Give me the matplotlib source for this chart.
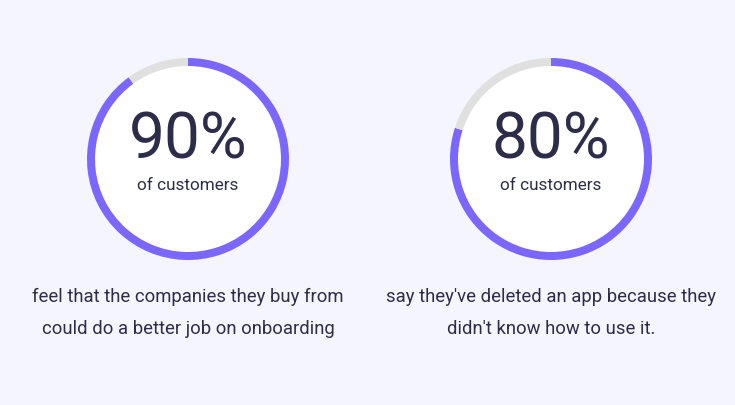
import matplotlib
matplotlib.use("Agg")
import matplotlib.pyplot as plt

values = [90, 80]
big_labels = ["90%", "80%"]
sub_label = "of customers"
captions = [
    "feel that the companies they buy from\ncould do a better job on onboarding",
    "say they've deleted an app because they\ndidn't know how to use it.",
]

BG = "#f4f5fe"
PURPLE = "#7b66ff"
GREY = "#e0e0e0"
DARK = "#2d2d4a"

W, H = 735, 406
fig = plt.figure(figsize=(W / 100, H / 100), dpi=100, facecolor=BG)
ax = fig.add_axes([0, 0, 1, 1])
ax.set_facecolor(BG)

centers_x = [188, 551]
cy = 160
R = 101
ring = 8

for i, v in enumerate(values):
    cx = centers_x[i]
    ax.add_patch(plt.Circle((cx, cy), R - ring / 2, color="white", zorder=1))
    # y axis is inverted: start at -90 (screen top), counterclock in data = clockwise on screen
    ax.pie([v, 100 - v], colors=[PURPLE, GREY], startangle=-90, counterclock=True,
           radius=R, center=(cx, cy), wedgeprops=dict(width=ring, linewidth=0),
           frame=True)
    ax.text(cx, 141, big_labels[i], ha="center", va="center", fontsize=46,
            color=DARK, family="Roboto", zorder=3)
    ax.text(cx, 186, sub_label, ha="center", va="center", fontsize=12.3,
            color=DARK, family="Roboto", zorder=3)
    ax.text(cx, 313, captions[i], ha="center", va="center", fontsize=13.3,
            color=DARK, family="Roboto", linespacing=1.95, zorder=3)

ax.set_xlim(0, W)
ax.set_ylim(H, 0)
ax.set_aspect("equal")
ax.axis("off")
fig.savefig("out.png", dpi=100, facecolor=BG)
